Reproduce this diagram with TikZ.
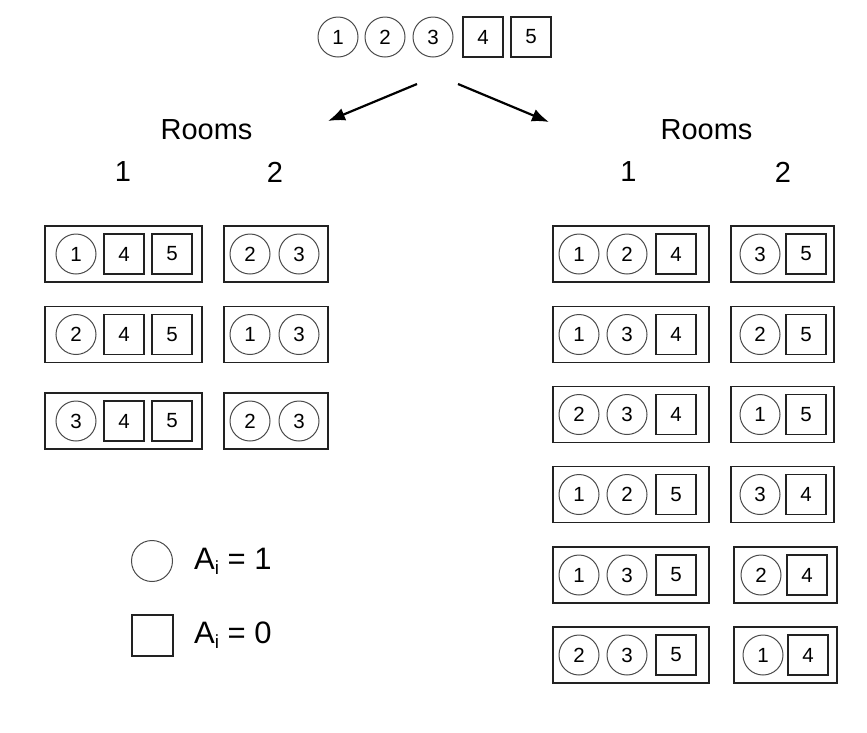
\documentclass[tikz,border=0pt]{standalone}
\usepackage{fontspec}
\setmainfont{Liberation Sans}
\usetikzlibrary{arrows.meta}
\definecolor{circcol}{HTML}{4A4A4A}
\definecolor{boxcol}{HTML}{222222}
\tikzset{
  cir/.style={circle,draw=circcol,line width=1pt,minimum size=40pt,inner sep=0pt,font=\fontsize{20.5}{20.5}\selectfont},
  sq/.style={rectangle,draw=boxcol,line width=1.1pt,minimum size=40pt,inner sep=0pt,font=\fontsize{20.5}{20.5}\selectfont},
  roomA/.style={rectangle,draw=boxcol,line width=1.3pt,minimum width=157pt,minimum height=56pt,inner sep=0pt},
  roomB/.style={rectangle,draw=boxcol,line width=1.3pt,minimum width=104pt,minimum height=56pt,inner sep=0pt},
  lbl/.style={font=\fontsize{29}{29}\selectfont,inner sep=0pt},
  legtxt/.style={font=\fontsize{31}{31}\selectfont,inner sep=0pt,anchor=west},
  arr/.style={line width=2.2pt,draw=black,-{Latex[length=17pt,width=13pt]}}
}
\begin{document}
\begin{tikzpicture}[x=1pt,y=-1pt]
\useasboundingbox (0,0) rectangle (867,732);
% top row
\node[cir] (t1) at (338,37) {1};
\node[cir] (t2) at (385,37) {2};
\node[cir] (t3) at (433,37) {3};
\node[sq]  (t4) at (483,37) {4};
\node[sq]  (t5) at (531,37) {5};
% arrows
\coordinate (la) at (417,84);
\coordinate (lb) at (328,121);
\coordinate (ra) at (458,84);
\coordinate (rb) at (549,122);
\draw[arr] (la) -- (lb);
\draw[arr] (ra) -- (rb);
% headers
\node[lbl] (roomsL) at (206.5,130) {Rooms};
\node[lbl] (roomsR) at (706.5,130) {Rooms};
\node[lbl] (hL1) at (123,172) {1};
\node[lbl] (hL2) at (275,172) {2};
\node[lbl] (hR1) at (628.5,172) {1};
\node[lbl] (hR2) at (783,172) {2};
% left column
\node[roomA] (L1a) at (123.5,254) {};
\node[roomB] (L1b) at (276,254) {};
\node[cir] (L1a1) at (76,254) {1};
\node[sq]  (L1a2) at (124,254) {4};
\node[sq]  (L1a3) at (172,254) {5};
\node[cir] (L1b1) at (250,254) {2};
\node[cir] (L1b2) at (299,254) {3};
\node[roomA] (L2a) at (123.5,334.5) {};
\node[roomB] (L2b) at (276,334.5) {};
\node[cir] (L2a1) at (76,334.5) {2};
\node[sq]  (L2a2) at (124,334.5) {4};
\node[sq]  (L2a3) at (172,334.5) {5};
\node[cir] (L2b1) at (250,334.5) {1};
\node[cir] (L2b2) at (299,334.5) {3};
\node[roomA] (L3a) at (123.5,421) {};
\node[roomB] (L3b) at (276,421) {};
\node[cir] (L3a1) at (76,421) {3};
\node[sq]  (L3a2) at (124,421) {4};
\node[sq]  (L3a3) at (172,421) {5};
\node[cir] (L3b1) at (250,421) {2};
\node[cir] (L3b2) at (299,421) {3};
% right column
\node[roomA,minimum width=156pt] (R1a) at (631,254) {};
\node[roomB,minimum width=103pt] (R1b) at (782.5,254) {};
\node[cir] (R1a1) at (579,254) {1};
\node[cir] (R1a2) at (627,254) {2};
\node[sq]  (R1a3) at (676,254) {4};
\node[cir] (R1b1) at (760,254) {3};
\node[sq]  (R1b2) at (806,254) {5};
\node[roomA,minimum width=156pt] (R2a) at (631,334.5) {};
\node[roomB,minimum width=103pt] (R2b) at (782.5,334.5) {};
\node[cir] (R2a1) at (579,334.5) {1};
\node[cir] (R2a2) at (627,334.5) {3};
\node[sq]  (R2a3) at (676,334.5) {4};
\node[cir] (R2b1) at (760,334.5) {2};
\node[sq]  (R2b2) at (806,334.5) {5};
\node[roomA,minimum width=156pt] (R3a) at (631,414.5) {};
\node[roomB,minimum width=103pt] (R3b) at (782.5,414.5) {};
\node[cir] (R3a1) at (579,414.5) {2};
\node[cir] (R3a2) at (627,414.5) {3};
\node[sq]  (R3a3) at (676,414.5) {4};
\node[cir] (R3b1) at (760,414.5) {1};
\node[sq]  (R3b2) at (806,414.5) {5};
\node[roomA,minimum width=156pt] (R4a) at (631,494.5) {};
\node[roomB,minimum width=103pt] (R4b) at (782.5,494.5) {};
\node[cir] (R4a1) at (579,494.5) {1};
\node[cir] (R4a2) at (627,494.5) {2};
\node[sq]  (R4a3) at (676,494.5) {5};
\node[cir] (R4b1) at (760,494.5) {3};
\node[sq]  (R4b2) at (806,494.5) {4};
\node[roomA,minimum width=156pt] (R5a) at (631,575) {};
\node[roomB,minimum width=103pt] (R5b) at (785.5,575) {};
\node[cir] (R5a1) at (579,575) {1};
\node[cir] (R5a2) at (627,575) {3};
\node[sq]  (R5a3) at (676,575) {5};
\node[cir] (R5b1) at (761,575) {2};
\node[sq]  (R5b2) at (807,575) {4};
\node[roomA,minimum width=156pt] (R6a) at (631,655) {};
\node[roomB,minimum width=103pt] (R6b) at (785.5,655) {};
\node[cir] (R6a1) at (579,655) {2};
\node[cir] (R6a2) at (627,655) {3};
\node[sq]  (R6a3) at (676,655) {5};
\node[cir] (R6b1) at (763,655) {1};
\node[sq]  (R6b2) at (808,655) {4};
% legend
\node[cir,minimum size=41pt] (legC) at (152,561) {};
\node[sq,minimum size=41pt] (legS) at (152.5,635.5) {};
\node[legtxt] (legCt) at (194,561) {A\raisebox{-0.3ex}{\fontsize{19}{19}\selectfont i} = 1};
\node[legtxt] (legSt) at (194,635.5) {A\raisebox{-0.3ex}{\fontsize{19}{19}\selectfont i} = 0};
\end{tikzpicture}
\end{document}
